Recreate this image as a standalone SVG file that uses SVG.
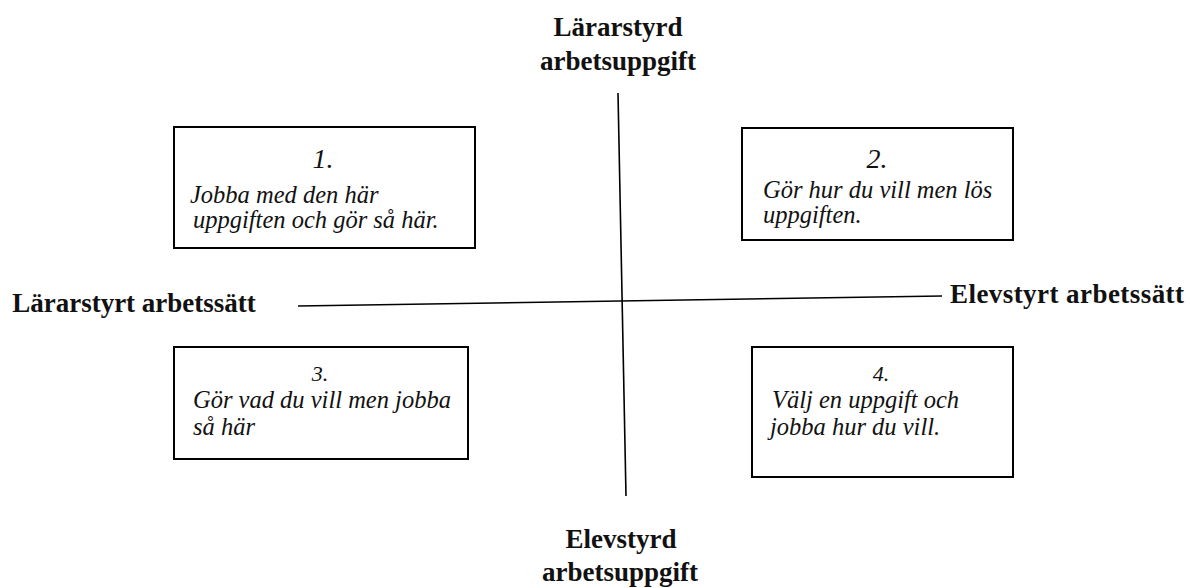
<svg xmlns="http://www.w3.org/2000/svg" width="1190" height="588" viewBox="0 0 1190 588">
<style>
.box{fill:#fff;stroke:#000;stroke-width:2}
.ax{stroke:#000;stroke-width:1.6;fill:none}
.lbl{font-family:"Liberation Serif",serif;font-weight:bold;font-size:27px;fill:#111}
.num{font-family:"Liberation Serif",serif;font-style:italic;font-size:28px;fill:#111;text-anchor:middle}
.num2{font-family:"Liberation Serif",serif;font-style:italic;font-size:22px;fill:#111;text-anchor:middle}
.txt{font-family:"Liberation Serif",serif;font-style:italic;font-size:24.5px;fill:#111}
</style>
<rect width="1190" height="588" fill="#fff"/>
<g id="connectors">
<line class="ax" x1="618" y1="93" x2="626" y2="496"/>
<line class="ax" x1="298" y1="306" x2="942" y2="296"/>
</g>
<g id="label-top">
<text class="lbl" x="618" y="36" text-anchor="middle">Lärarstyrd</text>
<text class="lbl" x="618" y="70" text-anchor="middle">arbetsuppgift</text>
</g>
<g id="label-bottom">
<text class="lbl" x="621" y="548" text-anchor="middle">Elevstyrd</text>
<text class="lbl" x="620" y="581" text-anchor="middle">arbetsuppgift</text>
</g>
<g id="label-left">
<text class="lbl" x="134" y="312" text-anchor="middle">Lärarstyrt arbetssätt</text>
</g>
<g id="label-right">
<text class="lbl" x="1067" y="303" text-anchor="middle" textLength="234">Elevstyrt arbetssätt</text>
</g>
<g id="box1">
<rect class="box" x="174" y="127" width="301" height="121"/>
<text class="num" x="323" y="168">1.</text>
<text class="txt" x="190" y="203">Jobba med den här</text>
<text class="txt" x="193" y="228">uppgiften och gör så här.</text>
</g>
<g id="box2">
<rect class="box" x="742" y="128" width="271" height="112"/>
<text class="num" x="877" y="168">2.</text>
<text class="txt" x="763" y="198">Gör hur du vill men lös</text>
<text class="txt" x="763" y="223">uppgiften.</text>
</g>
<g id="box3">
<rect class="box" x="174" y="347" width="294" height="112"/>
<text class="num2" x="320" y="381">3.</text>
<text class="txt" x="193" y="408">Gör vad du vill men jobba</text>
<text class="txt" x="193" y="435">så här</text>
</g>
<g id="box4">
<rect class="box" x="752" y="347" width="261" height="130"/>
<text class="num2" x="881" y="381">4.</text>
<text class="txt" x="772" y="408">Välj en uppgift och</text>
<text class="txt" x="770" y="435">jobba hur du vill.</text>
</g>
</svg>
